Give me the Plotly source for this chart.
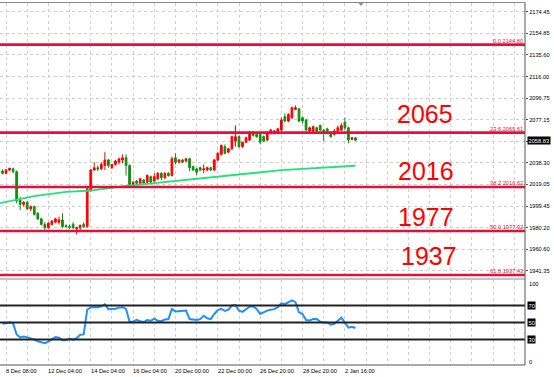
import plotly.graph_objects as go

W, H = 554, 377

# ---------------- data ----------------
opens = [2031, 2029, 2032, 2033, 2030.5, 2005, 2001, 2003, 1997, 1999,
         1993, 1988, 1983, 1980, 1983, 1985, 1985, 1987, 1982, 1981,
         1983, 1979, 1980, 1983, 1981, 2014, 2032, 2034, 2033, 2036,
         2041, 2034, 2037, 2039, 2041, 2043, 2036, 2019, 2022, 2020,
         2023, 2021, 2026, 2022, 2024, 2029, 2025, 2029, 2027, 2043,
         2039, 2041, 2040, 2042, 2035, 2033, 2034, 2032, 2032, 2034,
         2032, 2041, 2046, 2053, 2048, 2051, 2058, 2062, 2053, 2057,
         2059, 2066, 2064, 2064, 2062, 2059, 2065, 2066, 2066, 2068,
         2080, 2076, 2079, 2086.5, 2087, 2079, 2077, 2067, 2067, 2070,
         2072, 2068, 2069, 2065, 2064, 2067, 2068, 2075, 2070, 2059.5,
         2061]
highs = [2032.5, 2033, 2034, 2034, 2031.5, 2008, 2004, 2004, 2000, 2000,
         1994, 1989, 1985, 1985, 1987, 1989, 1990, 1993, 1983, 1983,
         1985, 1981, 1983, 1985, 2016, 2033, 2039, 2036, 2039, 2048,
         2042, 2037, 2041, 2043, 2046, 2046, 2037, 2022, 2023, 2025,
         2024, 2028, 2027, 2029, 2030, 2030, 2030, 2030, 2044, 2047,
         2042, 2042, 2043, 2043, 2036, 2034, 2035, 2037, 2035, 2035,
         2042, 2048, 2055, 2055, 2052, 2063, 2072, 2063, 2057, 2062,
         2067, 2067, 2066, 2066, 2063, 2067, 2069, 2068, 2070, 2079,
         2083, 2083, 2089, 2090, 2088, 2080, 2078, 2071, 2072, 2071,
         2073, 2069, 2070, 2066, 2069, 2072, 2074, 2079, 2071, 2061.5,
         2061.5]
lows = [2028, 2028, 2031, 2029, 2002, 1996, 1999, 1996, 1995, 1991,
        1987, 1982, 1977, 1979, 1982, 1984, 1983, 1980, 1980, 1979,
        1979, 1974, 1978, 1980, 1980, 2012, 2031, 2031, 2032, 2032,
        2034, 2033, 2036, 2037, 2038, 2027, 2018, 2018, 2019, 2019,
        2019, 2020, 2020, 2021, 2023, 2023, 2024, 2026, 2026, 2037,
        2038, 2038, 2039, 2031, 2031, 2027, 2031, 2029, 2031, 2031,
        2031, 2040, 2045, 2046, 2047, 2050, 2053, 2052, 2052, 2056,
        2058, 2062, 2061, 2055, 2057, 2058, 2064, 2064, 2064, 2066,
        2075, 2075, 2078, 2086, 2075, 2074, 2067, 2066, 2066, 2066,
        2067, 2058, 2064, 2061, 2063, 2066, 2067, 2068, 2056, 2059,
        2058]
closes = [2029, 2032, 2033.5, 2030.5, 2004, 2001, 2003, 1997, 1999, 1992,
          1988, 1983, 1980, 1984, 1986, 1988, 1987, 1981, 1981, 1980,
          1980, 1980, 1982, 1981, 2015, 2032, 2034, 2033, 2037, 2041,
          2036, 2037, 2040, 2042, 2043, 2036, 2019, 2021, 2020, 2024,
          2020, 2027, 2021, 2026, 2029, 2025, 2029, 2027, 2042, 2039,
          2041, 2039, 2042, 2034, 2032, 2030, 2032, 2033, 2034, 2032,
          2041, 2047, 2054, 2047, 2051, 2062, 2062, 2053, 2057, 2061,
          2066, 2063, 2062, 2057, 2058, 2065, 2068, 2067, 2069, 2077,
          2076, 2082, 2088, 2088, 2076, 2076, 2068, 2070, 2071, 2067,
          2068, 2066, 2065, 2062, 2067, 2070, 2072, 2070, 2059, 2061,
          2058.83]
bars = list(range(len(closes)))

rsi = [48.5, 49.5, 50, 49, 36, 32.5, 33.5, 32.5, 31.5, 30,
       28, 26.5, 25.7, 27.5, 30.5, 32.8, 32, 29, 29, 31,
       29.8, 31.5, 35.5, 36, 65, 68, 68, 68, 69, 71.5,
       65.7, 66, 66.2, 67.5, 68, 66, 51, 51, 53, 51.5,
       50.5, 53, 52, 54.5, 52, 51.5, 53.5, 54, 65.7, 63,
       63.5, 64, 64, 54, 53.5, 53, 54, 58, 55, 54,
       60, 64.5, 66, 63.5, 65, 70, 70.5, 64, 62.5, 65,
       68.5, 69, 66, 60, 62, 64, 65, 65.7, 68, 72.5,
       71.5, 73.5, 76, 74, 62, 60, 53, 52.5, 54, 54,
       51, 50, 50, 47.5, 48.5, 52, 55.5, 50, 44, 45,
       43.5]

ma_bars = [-1, 9, 18, 25, 34, 44, 53, 60, 69, 79, 100]
ma_vals = [2002.0, 2008.5, 2012.2, 2013.5, 2017.2, 2020.4, 2023.2, 2025.7, 2028.6, 2031.8, 2035.8]

fib_levels = [2144.80, 2065.61, 2016.62, 1977.02, 1937.43]
fib_names = ["0.0", "23.6", "38.2", "50.0", "61.8"]
big_labels = ["2065", "2016", "1977", "1937"]

price_ticks = [2174.45, 2154.85, 2135.60, 2116.00, 2096.75, 2077.15, 2057.55,
               2038.30, 2019.05, 1999.45, 1980.20, 1960.60, 1941.35]
last_price = 2058.83

time_labels = ["8 Dec 08:00", "12 Dec 04:00", "14 Dec 04:00", "16 Dec 04:00",
               "20 Dec 00:00", "22 Dec 00:00", "26 Dec 20:00", "28 Dec 20:00",
               "2 Jan 16:00"]
time_label_bars = [1, 13, 25, 37, 49, 61, 73, 85, 97]
grid_bars = list(range(1, 149, 6))

rsi_levels = [70, 50, 30]

# ---------------- layout helpers ----------------
def px_x(p):
    return p / W

def px_y(p):
    return 1 - p / H

FONT = "Liberation Sans, Arial, sans-serif"
TICK_FS = 5.7
RED = "#DC143C"

x_range = [-0.708, 148.02]
main_dom = [px_y(277.5), px_y(3)]
rsi_dom = [px_y(365), px_y(280)]

fig = go.Figure()

fig.add_trace(go.Candlestick(
    x=bars, open=opens, high=highs, low=lows, close=closes,
    increasing=dict(line=dict(color="#FF0000", width=1), fillcolor="#FF0000"),
    decreasing=dict(line=dict(color="#109010", width=1), fillcolor="#109010"),
    xaxis="x", yaxis="y", showlegend=False, hoverinfo="skip",
))

fig.add_trace(go.Scatter(
    x=ma_bars, y=ma_vals, mode="lines",
    line=dict(color="#22E27A", width=1.8),
    xaxis="x", yaxis="y", showlegend=False, hoverinfo="skip",
))

fig.add_trace(go.Scatter(
    x=bars, y=rsi, mode="lines",
    line=dict(color="#1E90FF", width=2),
    xaxis="x2", yaxis="y2", showlegend=False, hoverinfo="skip",
))

shapes = []
for lv in fib_levels:
    shapes.append(dict(type="line", xref="x domain", yref="y", x0=0, x1=1,
                       y0=lv, y1=lv, line=dict(color=RED, width=2.6), layer="above"))
for lv in rsi_levels:
    shapes.append(dict(type="line", xref="x2 domain", yref="y2", x0=0, x1=1,
                       y0=lv, y1=lv, line=dict(color="#222222", width=1.8), layer="above"))
frame_col = "#8a8a8a"
shapes.append(dict(type="line", xref="paper", yref="paper", x0=0, x1=px_x(525),
                   y0=px_y(2.5), y1=px_y(2.5), line=dict(color=frame_col, width=1)))
shapes.append(dict(type="line", xref="paper", yref="paper", x0=0, x1=px_x(525),
                   y0=px_y(279), y1=px_y(279), line=dict(color=frame_col, width=1)))
shapes.append(dict(type="line", xref="paper", yref="paper", x0=0, x1=px_x(525),
                   y0=px_y(365), y1=px_y(365), line=dict(color="#555555", width=1)))
shapes.append(dict(type="line", xref="paper", yref="paper", x0=px_x(525), x1=px_x(525),
                   y0=px_y(2.5), y1=px_y(365), line=dict(color="#555555", width=1)))
shapes.append(dict(type="path", xref="paper", yref="paper",
                   path=f"M {px_x(358.5)} {px_y(3)} L {px_x(363.5)} {px_y(3)} L {px_x(361)} {px_y(6)} Z",
                   fillcolor="#909090", line=dict(width=0)))

annotations = []
for name, lv in zip(fib_names, fib_levels):
    annotations.append(dict(xref="paper", yref="y", x=px_x(524), y=lv,
                            xanchor="right", yanchor="bottom", yshift=0,
                            text=f"{name} {lv:.2f}", showarrow=False,
                            font=dict(family=FONT, size=TICK_FS, color=RED),
                            borderpad=0))
big_pos = [(425, 114), (425.5, 170.5), (426, 216.5), (429, 256)]
for txt, (bx, by) in zip(big_labels, big_pos):
    annotations.append(dict(xref="paper", yref="paper", x=px_x(bx), y=px_y(by),
                            xanchor="center", yanchor="middle", text=txt, showarrow=False,
                            font=dict(family=FONT, size=25, color="#FF0000"), borderpad=0))
annotations.append(dict(xref="paper", yref="y", x=px_x(527), y=last_price,
                        xanchor="left", yanchor="middle", text=f"{last_price:.2f}",
                        showarrow=False, bgcolor="#000000",
                        font=dict(family=FONT, size=TICK_FS, color="#FFFFFF"), borderpad=0.5))
for lv in rsi_levels:
    annotations.append(dict(xref="paper", yref="y2", x=px_x(526.5), y=lv,
                            xanchor="left", yanchor="middle", text=str(lv),
                            showarrow=False, bgcolor="#000000",
                            font=dict(family=FONT, size=TICK_FS, color="#FFFFFF"), borderpad=0.5))
annotations.append(dict(xref="paper", yref="paper", x=px_x(528), y=px_y(284),
                        xanchor="left", yanchor="middle", text="100", showarrow=False,
                        font=dict(family=FONT, size=TICK_FS, color="#000000"), borderpad=0))
annotations.append(dict(xref="paper", yref="paper", x=px_x(528), y=px_y(361.5),
                        xanchor="left", yanchor="middle", text="0", showarrow=False,
                        font=dict(family=FONT, size=TICK_FS, color="#000000"), borderpad=0))
for lab, b in zip(time_labels, time_label_bars):
    annotations.append(dict(xref="x2", yref="paper", x=b, y=px_y(370.5),
                            xanchor="left", yanchor="middle", text=lab, showarrow=False,
                            xshift=-1,
                            font=dict(family=FONT, size=TICK_FS, color="#000000"), borderpad=0))

grid_col = "#cfcfcf"
fig.update_layout(
    width=W, height=H,
    margin=dict(l=0, r=0, t=0, b=0),
    paper_bgcolor="#FFFFFF", plot_bgcolor="#FFFFFF",
    showlegend=False,
    hovermode=False,
    xaxis=dict(domain=[0, px_x(525)], range=x_range, anchor="y",
               tickvals=grid_bars, showticklabels=False, ticks="",
               showgrid=True, gridcolor=grid_col, griddash="dot", gridwidth=1,
               zeroline=False, showline=False, rangeslider=dict(visible=False),
               fixedrange=True),
    yaxis=dict(domain=main_dom, range=[1935.2, 2182.3], side="right", anchor="x",
               tickvals=price_ticks, ticktext=[f"{v:.2f}" for v in price_ticks],
               ticks="outside", ticklen=2, tickcolor="#555555",
               tickfont=dict(family=FONT, size=TICK_FS, color="#000000"),
               showgrid=True, gridcolor=grid_col, griddash="dot", gridwidth=1,
               zeroline=False, showline=False),
    xaxis2=dict(domain=[0, px_x(525)], range=x_range, anchor="y2", matches="x",
                tickvals=grid_bars, showticklabels=False, ticks="",
                showgrid=True, gridcolor=grid_col, griddash="dot", gridwidth=1,
                zeroline=False, showline=False),
    yaxis2=dict(domain=rsi_dom, range=[0, 100], side="right", anchor="x2",
                tickvals=[], showticklabels=False, showgrid=False,
                zeroline=False, showline=False),
    shapes=shapes,
    annotations=annotations,
)

fig.write_html("out.html",
               config={"displayModeBar": False, "staticPlot": True},
               post_script="document.body.style.margin='0px';document.body.style.padding='0px';")
